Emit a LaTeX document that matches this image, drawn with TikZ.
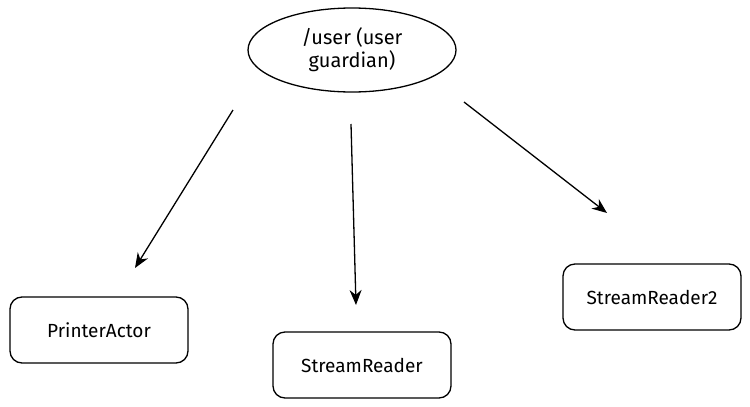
\documentclass[tikz,border=0pt]{standalone}
\usepackage{fontspec}
\setmainfont{Fira Sans}
\usepackage{tikz}
\usetikzlibrary{arrows,arrows.meta,shapes.geometric}

\begin{document}
\begin{tikzpicture}[x=1pt,y=-1pt,>={Stealth[length=15pt,width=12pt]},line width=1.3pt,
    guardian/.style={ellipse,draw,minimum width=208pt,minimum height=84pt,align=center,font=\fontsize{20}{23}\selectfont},
    actorbox/.style={draw,rounded corners=12pt,minimum width=178pt,minimum height=66pt,font=\fontsize{19}{22}\selectfont}]
  \useasboundingbox (0,0) rectangle (750,407);

  \node[guardian] (user) at (352,50) {/user (user\\ guardian)};
  \node[actorbox] (printer) at (99,330)  {PrinterActor};
  \node[actorbox] (reader)  at (362,365) {StreamReader};
  \node[actorbox] (reader2) at (652,297) {StreamReader2};

  % loose arrow ends, as drawn
  \coordinate (p1) at (233,110);  \coordinate (p2) at (135,268);
  \coordinate (r1) at (351,124);  \coordinate (r2) at (356,305);
  \coordinate (q1) at (464,102);  \coordinate (q2) at (607,213);

  \draw[->] (p1) -- (p2);
  \draw[->] (r1) -- (r2);
  \draw[->] (q1) -- (q2);
\end{tikzpicture}
\end{document}
